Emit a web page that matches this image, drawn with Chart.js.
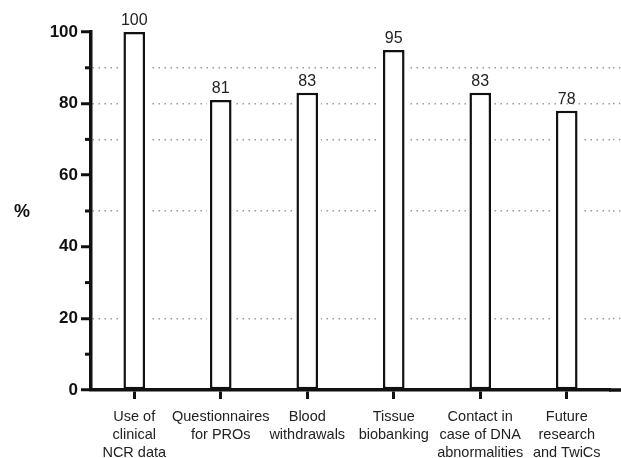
<!DOCTYPE html>
<html>
<head>
<meta charset="utf-8">
<script src="https://cdn.jsdelivr.net/npm/chart.js@4.4.0/dist/chart.umd.min.js"></script>
<style>
  html, body { margin: 0; padding: 0; background: #fff; }
</style>
</head>
<body>
<canvas id="chart" width="621" height="458"></canvas>
<script>
// data
var categories = [
  ["Use of", "clinical", "NCR data"],
  ["Questionnaires", "for PROs"],
  ["Blood", "withdrawals"],
  ["Tissue", "biobanking"],
  ["Contact in", "case of DNA", "abnormalities"],
  ["Future", "research", "and TwiCs"]
];
var values = [100, 81, 83, 95, 83, 78];
var yMajorTicks = [0, 20, 40, 60, 80, 100];
var yMinorTicks = [10, 30, 50, 70, 90];
var gridLevels = [20, 50, 70, 80, 90];

var fontFamily = "'Liberation Sans', Arial, sans-serif";
var ink = "#111";

// white gap round the bars so the dotted lines stop short of them
var barHalo = {
  id: "barHalo",
  beforeDatasetsDraw: function (chart) {
    var ctx = chart.ctx;
    var meta = chart.getDatasetMeta(0);
    ctx.save();
    ctx.fillStyle = "#fff";
    meta.data.forEach(function (bar) {
      var p = bar.getProps(["x", "y", "base", "width"], true);
      ctx.fillRect(p.x - p.width / 2 - 3, p.y - 2, p.width + 6, p.base - p.y - 1);
    });
    ctx.restore();
  }
};

var extras = {
  id: "extras",
  afterDatasetsDraw: function (chart) {
    var ctx = chart.ctx;
    var meta = chart.getDatasetMeta(0);
    ctx.save();
    ctx.font = "16px " + fontFamily;
    ctx.fillStyle = "#222";
    ctx.textAlign = "center";
    ctx.textBaseline = "alphabetic";
    meta.data.forEach(function (bar, i) {
      ctx.fillText(values[i], bar.x, bar.y - 7);
    });
    ctx.restore();
  },
  afterDraw: function (chart) {
    var ctx = chart.ctx;
    var area = chart.chartArea;
    var yScale = chart.scales.y;
    ctx.save();
    // minor ticks on y axis
    ctx.strokeStyle = ink;
    ctx.lineWidth = 3;
    yMinorTicks.forEach(function (v) {
      var y = yScale.getPixelForValue(v);
      ctx.beginPath();
      ctx.moveTo(area.left - 6, y);
      ctx.lineTo(area.left, y);
      ctx.stroke();
    });
    // x axis runs on to the edge
    ctx.lineWidth = 3.5;
    ctx.beginPath();
    ctx.moveTo(area.right - 1, area.bottom);
    ctx.lineTo(chart.width, area.bottom);
    ctx.stroke();
    // dotted lines too
    ctx.strokeStyle = "#9a9a9a";
    ctx.lineWidth = 1.5;
    ctx.setLineDash([1.5, 4.5]);
    gridLevels.forEach(function (v) {
      var y = yScale.getPixelForValue(v);
      ctx.beginPath();
      ctx.moveTo(area.right + 3, y);
      ctx.lineTo(chart.width, y);
      ctx.stroke();
    });
    ctx.setLineDash([]);
    // axis title, kept horizontal
    ctx.fillStyle = ink;
    ctx.font = "bold 18px " + fontFamily;
    ctx.textAlign = "center";
    ctx.textBaseline = "middle";
    ctx.fillText("%", 22, 212);
    ctx.restore();
  }
};

new Chart(document.getElementById("chart"), {
  type: "bar",
  data: {
    labels: categories,
    datasets: [
      {
        data: values,
        backgroundColor: "#fff",
        borderColor: ink,
        borderWidth: 2.5,
        borderSkipped: false,
        categoryPercentage: 1,
        barPercentage: 0.25
      }
    ]
  },
  options: {
    responsive: false,
    animation: false,
    layout: { padding: { top: 32, right: 11, bottom: 0, left: 0 } },
    plugins: {
      legend: { display: false },
      tooltip: { enabled: false }
    },
    scales: {
      x: {
        offset: true,
        afterFit: function (scale) {
          scale.height = 68;
        },
        grid: {
          offset: false,
          drawOnChartArea: false,
          drawTicks: true,
          tickLength: 9,
          tickWidth: 3,
          tickColor: ink
        },
        border: { display: true, color: ink, width: 3.5 },
        ticks: {
          autoSkip: false,
          maxRotation: 0,
          padding: 9,
          color: "#222",
          font: { family: fontFamily, size: 14.5, lineHeight: 1.25 }
        }
      },
      y: {
        min: 0,
        max: 100,
        afterFit: function (scale) {
          scale.width = 91;
        },
        grid: {
          color: function (c) {
            return gridLevels.indexOf(c.tick.value) >= 0 ? "#9a9a9a" : "rgba(0,0,0,0)";
          },
          lineWidth: 1.5,
          tickColor: function (c) {
            return yMajorTicks.indexOf(c.tick.value) >= 0 ? ink : "rgba(0,0,0,0)";
          },
          tickLength: 10,
          tickWidth: 3
        },
        border: { display: true, color: ink, width: 3.5, dash: [1.5, 4.5] },
        ticks: {
          stepSize: 10,
          autoSkip: false,
          padding: 3,
          color: ink,
          font: { family: fontFamily, size: 17, weight: "bold" },
          callback: function (v) {
            return yMajorTicks.indexOf(v) >= 0 ? v : "";
          }
        }
      }
    }
  },
  plugins: [barHalo, extras]
});
</script>
</body>
</html>
